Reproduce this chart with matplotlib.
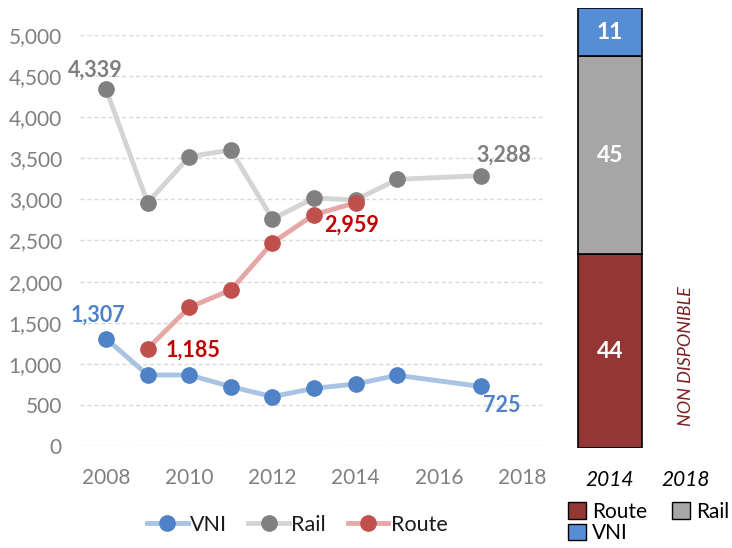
import matplotlib
matplotlib.use("Agg")
import matplotlib.pyplot as plt
from matplotlib.lines import Line2D
from matplotlib.patches import Patch

plt.rcParams['font.family'] = ['Lato', 'DejaVu Sans']

# ---- data ----
years_vni = [2008, 2009, 2010, 2011, 2012, 2013, 2014, 2015, 2017]
vni = [1307, 864, 864, 722, 600, 702, 754, 860, 725]
years_rail = [2008, 2009, 2010, 2011, 2012, 2013, 2014, 2015, 2017]
rail = [4339, 2960, 3520, 3601, 2761, 3017, 2993, 3244, 3288]
years_route = [2009, 2010, 2011, 2012, 2013, 2014]
route = [1185, 1687, 1898, 2473, 2814, 2959]

bar_cats = ["2014", "2018"]
share_route = [44]
share_rail = [45]
share_vni = [11]

yticks = [0, 500, 1000, 1500, 2000, 2500, 3000, 3500, 4000, 4500, 5000]
xticks = [2008, 2010, 2012, 2014, 2016, 2018]

W, H = 732, 548
fig = plt.figure(figsize=(W / 100, H / 100), dpi=100)

def ax_rect(x0, y0, x1, y1):
    return [x0 / W, 1 - y1 / H, (x1 - x0) / W, (y1 - y0) / H]

# ---- line chart ----
ax = fig.add_axes(ax_rect(80, 35, 545, 446))
c_vni_l, c_vni_m = '#a9c3e3', '#4f81c7'
c_rail_l, c_rail_m = '#d4d4d4', '#808080'
c_route_l, c_route_m = '#e5a8a7', '#c0504d'

ax.plot(years_vni, vni, color=c_vni_l, lw=3.5, marker='o', ms=11,
        mfc=c_vni_m, mec=c_vni_m, clip_on=False, zorder=3)
ax.plot(years_rail, rail, color=c_rail_l, lw=3.5, marker='o', ms=11,
        mfc=c_rail_m, mec=c_rail_m, clip_on=False, zorder=3)
ax.plot(years_route, route, color=c_route_l, lw=3.5, marker='o', ms=11,
        mfc=c_route_m, mec=c_route_m, clip_on=False, zorder=4)

ax.set_xlim(2007.375, 2018.55)
ax.set_ylim(0, 5000)
ax.set_yticks(yticks)
ax.set_yticklabels([f"{v:,}" for v in yticks])
ax.set_xticks(xticks)
ax.set_xticklabels([str(v) for v in xticks])
ax.tick_params(axis='both', length=0, labelsize=15, colors='#7f7f7f')
ax.tick_params(axis='x', pad=16)
ax.tick_params(axis='y', pad=13)
ax.grid(axis='y', color='#d9d9d9', linestyle=(0, (3, 2)), lw=1)
for s in ax.spines.values():
    s.set_visible(False)

lab_kw = dict(fontsize=15.5, fontweight='bold', ha='center', va='center')
ax.annotate(f"{rail[0]:,}", (years_rail[0], rail[0]), xytext=(-8, 14),
            textcoords='offset points', color='#7f7f7f', **lab_kw)
ax.annotate(f"{rail[-1]:,}", (years_rail[-1], rail[-1]), xytext=(17, 15),
            textcoords='offset points', color='#7f7f7f', **lab_kw)
ax.annotate(f"{route[-1]:,}", (years_route[-1], route[-1]), xytext=(-3, -16),
            textcoords='offset points', color='#c00000', **lab_kw)
ax.annotate(f"{route[0]:,}", (years_route[0], route[0]), xytext=(33, -1),
            textcoords='offset points', color='#c00000', **lab_kw)
ax.annotate(f"{vni[0]:,}", (years_vni[0], vni[0]), xytext=(-6, 17),
            textcoords='offset points', color='#4f81c7', **lab_kw)
ax.annotate(f"{vni[-1]:,}", (years_vni[-1], vni[-1]), xytext=(15, -14),
            textcoords='offset points', color='#4f81c7', **lab_kw)

handles = [
    Line2D([], [], color=c_vni_l, lw=3.5, marker='o', ms=11, mfc=c_vni_m, mec=c_vni_m),
    Line2D([], [], color=c_rail_l, lw=3.5, marker='o', ms=11, mfc=c_rail_m, mec=c_rail_m),
    Line2D([], [], color=c_route_l, lw=3.5, marker='o', ms=11, mfc=c_route_m, mec=c_route_m),
]
fig.legend(handles, ["VNI", "Rail", "Route"], ncol=3, frameon=False,
           loc='center', bbox_to_anchor=(297 / W, 1 - 525 / H),
           fontsize=15.5, handlelength=1.9, handletextpad=0.1, columnspacing=1.0,
           labelcolor='#1a1a1a')

# ---- stacked bar ----
axb = fig.add_axes(ax_rect(572, 8, 724, 448))
xb = [0]
bw = 0.855
c_route_b, c_rail_b, c_vni_b = '#943634', '#a6a6a6', '#558ed5'
axb.bar(xb, share_route, bw, color=c_route_b, edgecolor='black', lw=1.2)
axb.bar(xb, share_rail, bw, bottom=share_route, color=c_rail_b, edgecolor='black', lw=1.2)
axb.bar(xb, share_vni, bw, bottom=[share_route[0] + share_rail[0]], color=c_vni_b,
        edgecolor='black', lw=1.2)
axb.text(0, share_route[0] / 2, str(share_route[0]), color='white', fontsize=16.5,
         fontweight='bold', ha='center', va='center')
axb.text(0, share_route[0] + share_rail[0] / 2, str(share_rail[0]), color='white',
         fontsize=16.5, fontweight='bold', ha='center', va='center')
axb.text(0, share_route[0] + share_rail[0] + share_vni[0] / 2, str(share_vni[0]),
         color='white', fontsize=16.5, fontweight='bold', ha='center', va='center')
axb.text(1, 20.8, "NON DISPONIBLE", rotation=90, color='#7b1f1f', fontsize=13,
         fontstyle='italic', ha='center', va='center')
axb.set_xlim(-0.5, 1.5)
axb.set_ylim(0, 100)
axb.set_xticks([0, 1])
axb.set_xticklabels(bar_cats, fontstyle='italic')
axb.set_yticks([])
axb.tick_params(axis='x', length=0, labelsize=15, colors='black', pad=16)
for s in axb.spines.values():
    s.set_visible(False)

bh = [Patch(facecolor=c_route_b, edgecolor='black'),
      Patch(facecolor=c_vni_b, edgecolor='black'),
      Patch(facecolor=c_rail_b, edgecolor='black')]
fig.legend(bh, ["Route", "VNI", "Rail"], ncol=2, frameon=False,
           loc='upper left', bbox_to_anchor=(568 / W, 1 - 502 / H),
           fontsize=15, handlelength=0.85, handleheight=0.85, handletextpad=0.3,
           columnspacing=1.2, labelspacing=0.05, borderaxespad=0, borderpad=0.0)

fig.savefig("out.png", dpi=100)
